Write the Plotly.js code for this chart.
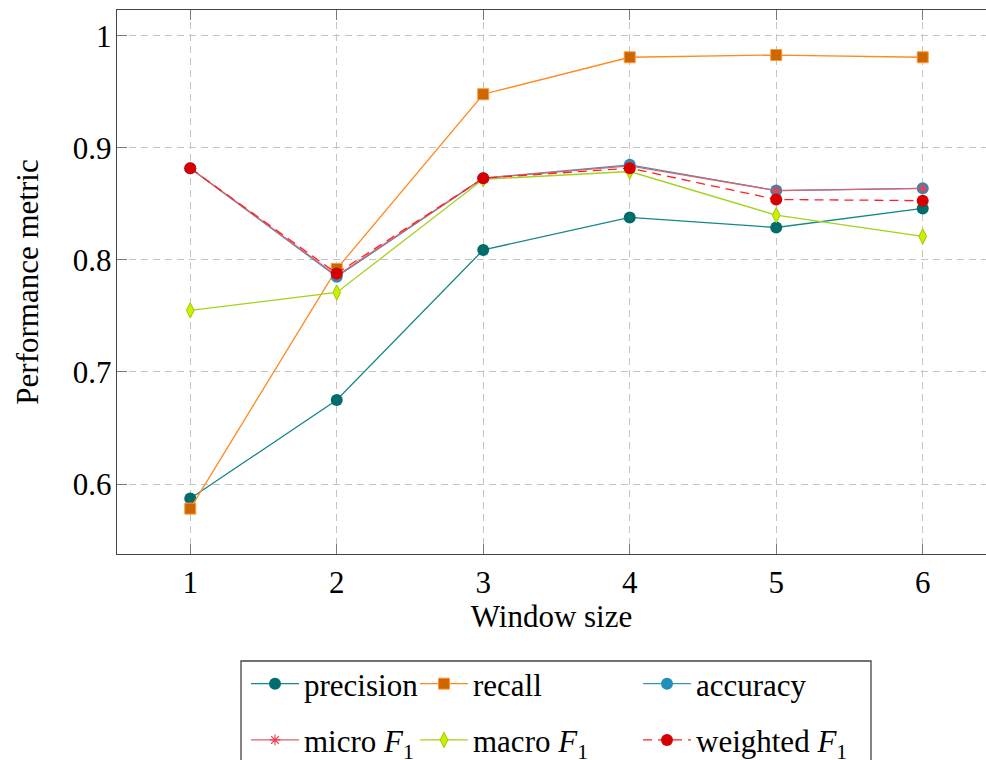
<!DOCTYPE html>
<html>
<head>
<meta charset="utf-8">
<script src="https://cdn.plot.ly/plotly-3.0.1.min.js"></script>
<style>
  html, body { margin: 0; padding: 0; background: #fff; }
  #chart { width: 986px; height: 760px; }
</style>
</head>
<body>
<div id="chart"></div>
<script>
// Data
const windowSizes = [1, 2, 3, 4, 5, 6];
const precision = [0.587, 0.675, 0.809, 0.838, 0.829, 0.846];
const recall    = [0.578, 0.792, 0.948, 0.981, 0.983, 0.981];
const accuracy  = [0.882, 0.785, 0.873, 0.885, 0.862, 0.864];
const microF1   = [0.882, 0.786, 0.873, 0.884, 0.862, 0.864];
const macroF1   = [0.755, 0.771, 0.872, 0.879, 0.840, 0.821];
const weightedF1= [0.882, 0.788, 0.873, 0.882, 0.854, 0.853];
const yTicks = [0.6, 0.7, 0.8, 0.9, 1];
const yTickText = ['0.6', '0.7', '0.8', '0.9', '1'];

const FONT = "'Liberation Serif', 'DejaVu Serif', serif";
const FS = 31;

function tr(name, y, opts) {
  return Object.assign({
    type: 'scatter', mode: 'lines+markers', x: windowSizes, y: y, name: name,
    cliponaxis: false
  }, opts);
}

const traces = [
  tr('precision', precision, {
    legend: 'legend', legendgroup: 'g1',
    line: { color: '#148787', width: 1.3 },
    marker: { symbol: 'circle', size: 12, color: '#006c6c', line: { width: 0 } }
  }),
  tr('recall', recall, {
    legend: 'legend2', legendgroup: 'g2',
    line: { color: '#ff8a1f', width: 1.3 },
    marker: { symbol: 'square', size: 11, color: '#cc6600', line: { color: '#ff9a3a', width: 1 } }
  }),
  tr('accuracy', accuracy, {
    legend: 'legend3', legendgroup: 'g3',
    line: { color: '#3496bb', width: 1.3 },
    marker: { symbol: 'circle', size: 12, color: '#1f8fbd', line: { width: 0 } }
  }),
  tr('micro <i>F</i><sub>1</sub>', microF1, {
    legend: 'legend', legendgroup: 'g4',
    line: { color: '#e0606e', width: 1.3 },
    marker: { symbol: 'asterisk-open', size: 9, color: '#f04050', line: { color: '#f04050', width: 1.2 } }
  }),
  tr('macro <i>F</i><sub>1</sub>', macroF1, {
    legend: 'legend2', legendgroup: 'g5',
    line: { color: '#a2d21c', width: 1.3 },
    marker: { symbol: 'diamond-tall', size: 11, color: '#c8f000', line: { color: '#a0c800', width: 1 } }
  }),
  tr('weighted <i>F</i><sub>1</sub>', weightedF1, {
    legend: 'legend3', legendgroup: 'g6',
    line: { color: '#ff2020', width: 1.3, dash: '9px,6px' },
    marker: { symbol: 'circle', size: 12, color: '#d60000', line: { width: 0 } }
  })
];

const legendCommon = {
  orientation: 'v', yanchor: 'top', xanchor: 'left',
  bgcolor: 'rgba(0,0,0,0)', borderwidth: 0,
  font: { family: FONT, size: FS, color: '#000' },
  itemwidth: 48, tracegroupgap: 13, traceorder: 'grouped'
};

const LY = (554 - 657) / 544;

const layout = {
  width: 986, height: 760,
  margin: { l: 117, r: 0, t: 10, b: 206, autoexpand: false },
  paper_bgcolor: '#fff', plot_bgcolor: '#fff',
  font: { family: FONT, size: FS, color: '#000' },
  showlegend: true,
  xaxis: {
    range: [0.5, 6.432], automargin: false,
    tickvals: windowSizes, ticktext: windowSizes.map(String),
    ticks: 'inside', ticklen: 10, tickwidth: 1, tickcolor: '#7a7a7a',
    showline: true, linecolor: '#444', linewidth: 1.3, mirror: 'ticks',
    showgrid: true, gridcolor: '#c4c4c4', gridwidth: 1, griddash: '7px,5px',
    zeroline: false,
    tickfont: { family: FONT, size: FS, color: '#000' },
    title: { text: 'Window size', font: { family: FONT, size: FS, color: '#000' }, standoff: 4 }
  },
  yaxis: {
    range: [0.5375, 1.0232], automargin: false,
    tickvals: yTicks, ticktext: yTickText,
    ticks: 'inside', ticklen: 10, tickwidth: 1, tickcolor: '#7a7a7a',
    ticklabelstandoff: -2,
    showline: true, linecolor: '#444', linewidth: 1.3, mirror: false,
    showgrid: true, gridcolor: '#c4c4c4', gridwidth: 1, griddash: '7px,5px',
    zeroline: false,
    tickfont: { family: FONT, size: FS, color: '#000' },
    title: { text: 'Performance metric', font: { family: FONT, size: FS, color: '#000' }, standoff: 25 }
  },
  legend:  Object.assign({}, legendCommon, { x: (246 - 117) / 869, y: LY }),
  legend2: Object.assign({}, legendCommon, { x: (415 - 117) / 869, y: LY }),
  legend3: Object.assign({}, legendCommon, { x: (638 - 117) / 869, y: LY }),
  shapes: [{
    type: 'rect', xref: 'paper', yref: 'paper',
    x0: (241 - 117) / 869, x1: (871 - 117) / 869,
    y0: (554 - 661) / 544, y1: (554 - 790) / 544,
    line: { color: '#444', width: 1.3 }, fillcolor: 'rgba(0,0,0,0)', layer: 'above'
  }]
};

Plotly.newPlot('chart', traces, layout, { displayModeBar: false, staticPlot: true });
</script>
</body>
</html>
